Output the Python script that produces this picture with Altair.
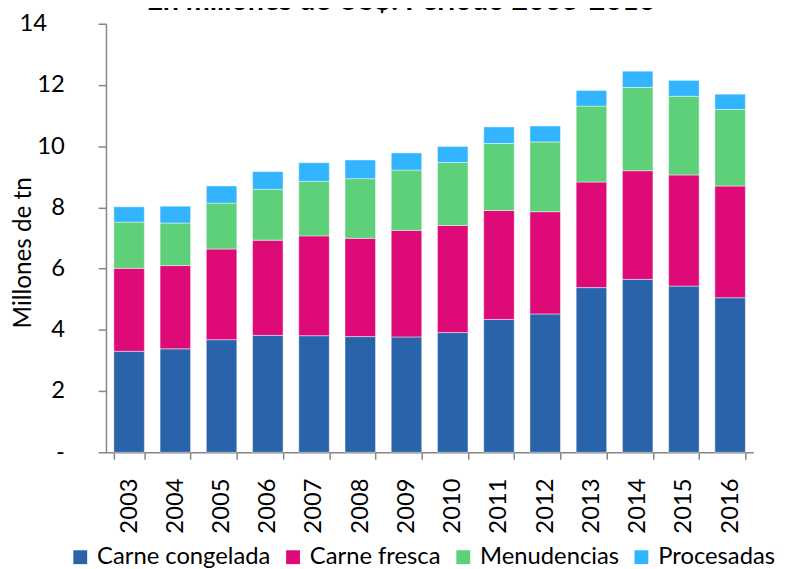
import altair as alt
import pandas as pd

years = [str(y) for y in range(2003, 2017)]
series = ["Carne congelada", "Carne fresca", "Menudencias", "Procesadas"]
colors = ["#2963AA", "#DE0A78", "#5ED07A", "#33B4FF"]
title_text = ["En millones de US$. Período 2003-2016"]

carne_congelada = [3.30, 3.38, 3.68, 3.82, 3.81, 3.78, 3.77, 3.91, 4.34, 4.52, 5.38, 5.65, 5.43, 5.05]
carne_fresca    = [2.71, 2.72, 2.96, 3.11, 3.26, 3.21, 3.48, 3.50, 3.56, 3.34, 3.45, 3.55, 3.63, 3.65]
menudencias     = [1.51, 1.39, 1.50, 1.66, 1.78, 1.95, 1.97, 2.06, 2.19, 2.28, 2.48, 2.72, 2.57, 2.50]
procesadas      = [0.50, 0.55, 0.56, 0.58, 0.61, 0.61, 0.56, 0.52, 0.54, 0.52, 0.51, 0.53, 0.52, 0.50]

values = [carne_congelada, carne_fresca, menudencias, procesadas]
rows = []
for si, (name, vals) in enumerate(zip(series, values)):
    for y, v in zip(years, vals):
        rows.append({"Año": y, "Tipo": name, "Valor": v, "orden": si})
df = pd.DataFrame(rows)

FONT = "Lato"
GREY = "#868686"

bars = alt.Chart(df).mark_bar(
    stroke="white", strokeOpacity=0.45, strokeWidth=1
).encode(
    x=alt.X("Año:N", sort=years,
            scale=alt.Scale(paddingInner=0.34, paddingOuter=0.17),
            axis=alt.Axis(title=None, labelAngle=-90, labelAlign="right",
                          labelBaseline="middle", labelFont=FONT, labelFontSize=24,
                          labelColor="black", labelPadding=19,
                          domainColor=GREY, domainWidth=1.5, tickColor=GREY,
                          tickWidth=1.5, tickSize=7, tickBand="extent")),
    y=alt.Y("Valor:Q", stack="zero",
            scale=alt.Scale(domain=[0, 14], nice=False),
            axis=alt.Axis(title="Millones de tn", values=[0, 2, 4, 6, 8, 10, 12, 14],
                          labelExpr="datum.value == 0 ? '-' : datum.label",
                          labelFont=FONT, labelFontSize=24, labelColor="black",
                          labelPadding={"condition": {"test": "datum.value == 14", "value": 52},
                                        "value": 34},
                          grid=False, domainColor=GREY, domainWidth=1.5,
                          tickColor=GREY, tickWidth=1.5, tickSize=8,
                          titleFont=FONT, titleFontSize=24.5, titleFontWeight="normal",
                          titleColor="black", titleAngle=-90, titleX=-83, titleY=231,
                          titleAlign="center", titleBaseline="middle")),
    color=alt.Color("Tipo:N", sort=series,
                    scale=alt.Scale(domain=series, range=colors),
                    legend=alt.Legend(title=None, orient="none", direction="horizontal",
                                      legendX=-38, legendY=527, padding=0,
                                      symbolType="square", symbolSize=196,
                                      symbolStrokeWidth=0, symbolOpacity=1,
                                      labelFont=FONT, labelFontSize=24, labelColor="black",
                                      labelOffset=5, columnPadding=10, labelLimit=300)),
    order=alt.Order("orden:Q", sort="ascending"),
)

title = alt.Chart(pd.DataFrame({"t": title_text})).mark_text(
    font=FONT, fontSize=29, fontWeight="bold", color="black",
    align="center", baseline="alphabetic"
).encode(
    text="t:N",
    x=alt.value(298),
    y=alt.value(-14),
)

chart = alt.layer(bars, title).properties(
    width=654,
    height=433,
    autosize=alt.AutoSizeParams(type="none"),
    padding={"left": 99, "top": 13, "right": 24, "bottom": 114},
).configure_view(stroke=None)

chart.save("out.html", embed_options={"renderer": "svg", "actions": False})
